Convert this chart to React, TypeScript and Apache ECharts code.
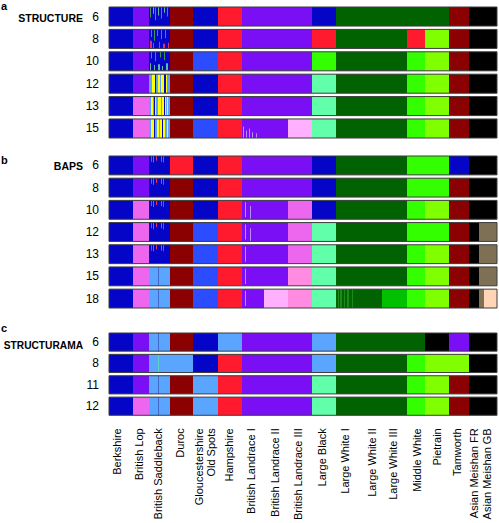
import React, { useEffect, useRef } from "react";
import * as echarts from "echarts";

// ---------- DATA ----------
const breeds = [
  "Berkshire", "British Lop", "British Saddleback", "Duroc", "Gloucestershire Old Spots",
  "Hampshire", "British Landrace I", "British Landrace II", "British Landrace III", "Large Black",
  "Large White I", "Large White II", "Large White III", "Middle White", "Pietrain", "Tamworth",
  "Asian Meishan FR", "Asian Meishan GB",
];
const breedSizes = [24, 16, 21, 23, 25, 24, 22, 24, 24, 24, 21, 25, 25, 18, 24, 20, 10, 18];

const tickLabels = [
  "Berkshire", "British Lop", "British Saddleback", "Duroc", "Gloucestershire", "Old Spots",
  "Hampshire", "British Landrace I", "British Landrace II", "British Landrace III", "Large Black",
  "Large White I", "Large White II", "Large White III", "Middle White", "Pietrain", "Tamworth",
  "Asian Meishan FR", "Asian Meishan GB",
];
const tickAt = [8, 30, 49, 71, 90, 102, 120, 142, 166, 189, 213, 236, 263, 284, 308, 328, 348, 365, 378];

const paletteKeys = ["B", "P", "DR", "R", "DG", "G", "YG", "K", "LB", "MB", "PK", "PK2", "LP", "AQ", "TAN", "PE", "MG", "Y", "NG", "NT", "NR", "LV", "LBD", "TL", "G2"];
const paletteColors = ["#0505c8", "#7a0ff5", "#8b0000", "#ff1a2e", "#006200", "#33ff00", "#80ff00", "#000000", "#5aa5ff", "#2b4cff", "#ec66ee", "#ff8ce0", "#ffb0ff", "#62ffaa", "#7d7055", "#ffd5b8", "#00c000", "#ffff00", "#3c9a50", "#5fb8a0", "#e0306a", "#b88cff", "#3f68c8", "#60d0c0", "#1a8a1a"];

// Saddleback / mixed sub-segments: [colour, individuals]
const sad12 = [["LB", 3], ["Y", 3], ["B", 1], ["LB", 2], ["Y", 2], ["LB", 1], ["Y", 3], ["B", 2], ["Y", 1], ["LB", 3]];
const sad13 = [["LB", 2], ["Y", 2], ["LB", 1], ["B", 1], ["Y", 1], ["LB", 2], ["Y", 3], ["LB", 1], ["Y", 2], ["B", 1], ["Y", 1], ["LB", 1], ["Y", 1], ["LB", 2]];
const sad15 = [["LB", 2], ["Y", 3], ["B", 1], ["LB", 2], ["Y", 2], ["LB", 1], ["Y", 2], ["B", 1], ["Y", 2], ["LB", 2], ["Y", 1], ["LB", 2]];
const lw1K18 = [["DG", 2], ["G2", 1], ["DG", 1], ["G2", 2], ["DG", 2], ["G2", 1], ["DG", 2], ["G2", 2], ["DG", 3], ["G2", 1], ["DG", 4]];
const gbK18 = [["TAN", 5], ["PE", 13]];

const structureK = ["6", "8", "10", "12", "13", "15"];
const structureRows: any[] = [
  ["B", "P", "B", "DR", "B", "R", "P", "P", "P", "B", "DG", "DG", "DG", "DG", "DG", "DR", "K", "K"],
  ["B", "P", "B", "DR", "B", "R", "P", "P", "P", "R", "DG", "DG", "DG", "R", "YG", "DR", "K", "K"],
  ["B", "P", "B", "DR", "MB", "R", "P", "P", "P", "G", "DG", "DG", "DG", "G", "YG", "DR", "K", "K"],
  ["B", "P", sad12, "DR", "B", "R", "P", "P", "P", "AQ", "DG", "DG", "DG", "G", "YG", "DR", "K", "K"],
  ["B", "PK", sad13, "DR", "B", "R", "P", "P", "P", "AQ", "DG", "DG", "DG", "G", "YG", "DR", "K", "K"],
  ["B", "PK", sad15, "DR", "MB", "R", "P", "P", "LP", "AQ", "DG", "DG", "DG", "G", "YG", "DR", "K", "K"],
];
// admixture overlays: [row, breed, offset, width, colour, fromFrac, toFrac]
const structureMix = [
  [0, 2, 1, 1, "NG", 0, 0.55], [0, 2, 4, 1, "NT", 0, 0.35], [0, 2, 6, 1, "NG", 0, 0.7], [0, 2, 9, 1, "NT", 0, 0.45],
  [0, 2, 12, 1, "NG", 0, 0.6], [0, 2, 15, 1, "NT", 0, 0.3], [0, 2, 18, 1, "NG", 0, 0.5],
  [1, 2, 2, 1, "NG", 0, 0.4], [1, 2, 5, 1, "NG", 0, 0.6], [1, 2, 8, 1, "NG", 0, 0.35], [1, 2, 12, 1, "NG", 0, 0.5],
  [1, 2, 16, 1, "NG", 0, 0.45], [1, 2, 1, 2, "NR", 0.6, 1], [1, 2, 4, 1, "NR", 0.7, 1], [1, 2, 10, 1, "NR", 0.65, 1],
  [1, 2, 14, 2, "NR", 0.75, 1], [1, 2, 19, 1, "NR", 0.7, 1],
  [2, 2, 2, 1, "NG", 0, 0.35], [2, 2, 6, 1, "NG", 0, 0.5], [2, 2, 11, 1, "NG", 0, 0.3], [2, 2, 15, 1, "NG", 0, 0.45],
  [2, 2, 1, 1, "NT", 0.6, 1], [2, 2, 5, 1, "NT", 0.7, 1], [2, 2, 9, 2, "NT", 0.65, 1], [2, 2, 13, 1, "NT", 0.75, 1],
  [2, 2, 17, 2, "NT", 0.6, 1],
  [5, 6, 1, 1, "LV", 0.4, 1], [5, 6, 4, 1, "LV", 0.6, 1], [5, 6, 7, 1, "LV", 0.5, 1], [5, 6, 10, 1, "LV", 0.7, 1],
  [5, 6, 14, 1, "LV", 0.75, 1],
];

const bapsK = ["6", "8", "10", "12", "13", "15", "18"];
const bapsRows: any[] = [
  ["B", "P", "B", "R", "B", "R", "P", "P", "P", "B", "DG", "DG", "DG", "G", "G", "B", "K", "K"],
  ["B", "P", "B", "DR", "B", "R", "P", "P", "P", "B", "DG", "DG", "DG", "G", "G", "DR", "K", "K"],
  ["B", "PK", "B", "DR", "B", "R", "P", "P", "PK", "B", "DG", "DG", "DG", "G", "YG", "DR", "K", "K"],
  ["B", "PK", "B", "DR", "MB", "R", "P", "P", "PK", "AQ", "DG", "DG", "DG", "G", "G", "DR", "K", "TAN"],
  ["B", "PK", "B", "DR", "MB", "R", "P", "P", "PK", "AQ", "DG", "DG", "DG", "G", "YG", "DR", "K", "TAN"],
  ["B", "PK", "LB", "DR", "MB", "R", "P", "P", "PK2", "AQ", "DG", "DG", "DG", "G", "YG", "DR", "K", "TAN"],
  ["B", "PK", "LB", "DR", "MB", "R", "P", "LP", "PK2", "AQ", lw1K18, "DG", "MG", "G", "YG", "DR", "K", gbK18],
];
const bapsMix = [
  [0, 2, 2, 1, "NR", 0, 0.3], [0, 2, 4, 1, "NG", 0, 0.35], [0, 2, 7, 1, "NR", 0, 0.25], [0, 2, 12, 1, "NG", 0, 0.3], [0, 2, 14, 1, "NR", 0, 0.35],
  [1, 2, 2, 1, "NR", 0, 0.3], [1, 2, 4, 1, "NG", 0, 0.35], [1, 2, 7, 1, "NR", 0, 0.25], [1, 2, 12, 1, "NG", 0, 0.3], [1, 2, 14, 1, "NR", 0, 0.35],
  [2, 2, 2, 1, "NR", 0, 0.3], [2, 2, 4, 1, "NG", 0, 0.35], [2, 2, 7, 1, "NR", 0, 0.25], [2, 2, 12, 1, "NG", 0, 0.3], [2, 2, 14, 1, "NR", 0, 0.35],
  [3, 2, 2, 1, "NR", 0, 0.3], [3, 2, 4, 1, "NG", 0, 0.35], [3, 2, 7, 1, "NR", 0, 0.25], [3, 2, 12, 1, "NG", 0, 0.3], [3, 2, 14, 1, "NR", 0, 0.35],
  [4, 2, 2, 1, "NR", 0, 0.3], [4, 2, 4, 1, "NG", 0, 0.35], [4, 2, 7, 1, "NR", 0, 0.25], [4, 2, 12, 1, "NG", 0, 0.3], [4, 2, 14, 1, "NR", 0, 0.35],
  [5, 2, 9, 1, "LBD", 0, 1], [6, 2, 9, 1, "LBD", 0, 1],
  [2, 6, 3, 1, "LV", 0.1, 0.9], [2, 6, 8, 1, "LV", 0.3, 1], [3, 6, 3, 1, "LV", 0.1, 0.9], [3, 6, 8, 1, "LV", 0.3, 1],
  [4, 6, 3, 1, "LV", 0.1, 0.9], [5, 6, 3, 1, "LV", 0.1, 0.9], [6, 6, 3, 1, "LV", 0.1, 0.9],
];

const structuramaK = ["6", "8", "11", "12"];
const structuramaRows: any[] = [
  ["B", "P", "LB", "DR", "B", "LB", "P", "P", "P", "LB", "DG", "DG", "DG", "DG", "K", "P", "K", "K"],
  ["B", "P", "LB", "LB", "B", "R", "P", "P", "P", "LB", "DG", "DG", "DG", "G", "YG", "YG", "K", "K"],
  ["B", "P", "LB", "DR", "LB", "R", "P", "P", "P", "AQ", "DG", "DG", "DG", "G", "YG", "DR", "K", "K"],
  ["B", "PK", "LB", "DR", "LB", "R", "P", "P", "P", "AQ", "DG", "DG", "DG", "G", "YG", "DR", "K", "K"],
];
const structuramaMix = [
  [0, 2, 9, 1, "LBD", 0, 1], [1, 2, 9, 1, "TL", 0, 1], [2, 2, 9, 1, "LBD", 0, 1], [3, 2, 9, 1, "LBD", 0, 1],
];

// ---------- BUILD ----------
const H = 0.85;
const total = breedSizes.reduce((a, b) => a + b, 0);
const breedStart: number[] = [];
breedSizes.reduce((acc, s, i) => { breedStart[i] = acc; return acc + s; }, 0);
const ci = (k: string) => paletteKeys.indexOf(k);

function buildPanel(rows: any[], mix: any[]) {
  const out: number[][] = [];
  rows.forEach((row: any[], r: number) => {
    row.forEach((entry: any, b: number) => {
      let x = breedStart[b];
      if (typeof entry === "string") {
        out.push([x, x + breedSizes[b], r, 0, 1, ci(entry)]);
      } else {
        entry.forEach(([k, w]: [string, number]) => {
          out.push([x, x + w, r, 0, 1, ci(k)]);
          x += w;
        });
      }
    });
  });
  mix.forEach(([r, b, off, w, k, f0, f1]: any[]) => {
    const x = breedStart[b] + off;
    out.push([x, x + w, r, f0, f1, ci(k)]);
  });
  return out;
}

const renderSeg = (params: any, api: any) => {
  const p0 = api.coord([api.value(0), api.value(2) + api.value(3) * H]);
  const p1 = api.coord([api.value(1), api.value(2) + api.value(4) * H]);
  return {
    type: "rect",
    shape: { x: p0[0], y: p0[1], width: p1[0] - p0[0], height: p1[1] - p0[1] },
    style: { fill: paletteColors[api.value(5)] },
  };
};
const renderFrame = (params: any, api: any) => {
  const p0 = api.coord([0, api.value(0)]);
  const p1 = api.coord([total, api.value(0) + H]);
  return {
    type: "rect",
    shape: { x: p0[0], y: p0[1], width: p1[0] - p0[0], height: p1[1] - p0[1] },
    style: { fill: "none", stroke: "#3c3c3c", lineWidth: 1 },
  };
};

const FONT = "Liberation Sans, Arial, Helvetica, sans-serif";

export default function App() {
  const ref = useRef<HTMLDivElement>(null);
  useEffect(() => {
    document.body.style.margin = "0";
    if (!ref.current) return;
    const chart = echarts.init(ref.current, undefined, { renderer: "svg" });
    const panels = [
      { k: structureK, rows: structureRows, mix: structureMix, top: 7, height: 131 },
      { k: bapsK, rows: bapsRows, mix: bapsMix, top: 156, height: 152 },
      { k: structuramaK, rows: structuramaRows, mix: structuramaMix, top: 333, height: 86 },
    ];
    const grid = panels.map((p) => ({ left: 109, width: total, top: p.top, height: p.height }));
    const xAxis = panels.map((p, i) => ({
      type: "value",
      gridIndex: i,
      min: 0,
      max: total,
      show: i === 2,
      axisLine: { show: false },
      splitLine: { show: false },
      axisTick: { show: true, customValues: tickAt, length: 5, lineStyle: { color: "#000", width: 1 } },
      axisLabel: {
        customValues: tickAt,
        rotate: 90,
        margin: 13,
        fontSize: 11,
        fontFamily: FONT,
        color: "#000",
        formatter: (v: number) => tickLabels[tickAt.indexOf(v)] ?? "",
      },
    }));
    const yAxis = panels.map((p, i) => ({
      type: "value",
      gridIndex: i,
      inverse: true,
      min: 0,
      max: p.k.length - 1 + H,
      axisLine: { show: false },
      axisTick: { show: false },
      splitLine: { show: false },
      axisLabel: {
        customValues: p.k.map((_, j) => j + H / 2),
        margin: 10,
        fontSize: 12,
        fontFamily: FONT,
        color: "#000",
        formatter: (v: number) => p.k[Math.round(v - H / 2)] ?? "",
      },
    }));
    const series: any[] = [];
    panels.forEach((p, i) => {
      series.push({
        type: "custom",
        xAxisIndex: i,
        yAxisIndex: i,
        renderItem: renderSeg,
        encode: { x: [0, 1], y: 2 },
        data: buildPanel(p.rows, p.mix),
        silent: true,
      });
      series.push({
        type: "custom",
        xAxisIndex: i,
        yAxisIndex: i,
        renderItem: renderFrame,
        encode: { y: 0 },
        data: p.k.map((_, j) => [j]),
        silent: true,
        z: 5,
      });
    });
    const boldText = (text: string, x: number, y: number, size: number, align: string) => ({
      type: "text",
      x,
      y,
      style: { text, fontSize: size, fontWeight: "bold", fontFamily: FONT, fill: "#000", align, verticalAlign: "middle" },
    });
    chart.setOption({
      animation: false,
      backgroundColor: "#fff",
      grid,
      xAxis,
      yAxis,
      series,
      graphic: [
        boldText("a", 1, 6, 11, "left"),
        boldText("STRUCTURE", 83, 17.5, 10.5, "right"),
        boldText("b", 1, 160, 11, "left"),
        boldText("BAPS", 83, 166, 10.5, "right"),
        boldText("c", 1, 328, 11, "left"),
        boldText("STRUCTURAMA", 83, 345, 10.2, "right"),
      ],
    });
    return () => chart.dispose();
  }, []);
  return <div ref={ref} style={{ width: 499, height: 523 }} />;
}
